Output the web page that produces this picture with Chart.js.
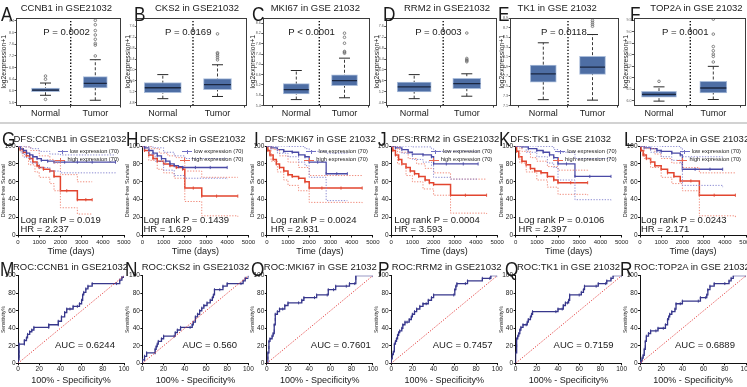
<!DOCTYPE html>
<html><head><meta charset="utf-8">
<script src="https://cdn.jsdelivr.net/npm/chart.js@4.4.1/dist/chart.umd.min.js"></script>
<style>
html,body{margin:0;padding:0;background:#fff;overflow:hidden}
#fig{position:relative;width:747px;height:387px;overflow:hidden;font-family:"Liberation Sans",Arial,sans-serif;color:#1a1a1a}
canvas{position:absolute}
.t{position:absolute;white-space:nowrap;line-height:1}
.let{transform:scaleX(0.82);transform-origin:0 0}
.lg{position:absolute;font-size:5.7px;line-height:1;text-align:right;white-space:nowrap}
.lg div{display:flex;justify-content:flex-end;align-items:center;height:8.5px}
.lg i{display:inline-block;width:10px;height:1px;margin-right:2px;position:relative}
.lg i b{position:absolute;left:4.5px;top:-1.5px;width:1px;height:4px}
</style></head><body><div id="fig"></div>
<script>
// ---------------- DATA ----------------
const letters = ['A','B','C','D','E','F','G','H','I','J','K','L','M','N','O','P','Q','R'];
const boxTitles = ['CCNB1 in GSE21032','CKS2 in GSE21032','MKI67 in GSE 21032','RRM2 in GSE21032','TK1 in GSE 21032','TOP2A in GSE 21032'];
const kmTitles = ['DFS:CCNB1 in GSE21032','DFS:CKS2 in GSE21032','DFS:MKI67 in GSE 21032','DFS:RRM2 in GSE21032','DFS:TK1 in GSE 21032','DFS:TOP2A in GSE 21032'];
const rocTitles = ['ROC:CCNB1 in GSE21032','ROC:CKS2 in GSE21032','ROC:MKI67 in GSE 21032','ROC:RRM2 in GSE21032','ROC:TK1 in GSE 21032','ROC:TOP2A in GSE 21032'];
const groups = ['Normal','Tumor'];
const pValues = ['P = 0.0002','P = 0.0169','P < 0.0001','P = 0.0003','P = 0.0118','P = 0.0001'];
const logRankP = ['0.019','0.1439','0.0024','0.0004','0.0106','0.0243'];
const hazardRatios = ['2.237','1.629','2.931','3.593','2.397','2.171'];
const aucValues = ['0.6244','0.560','0.7601','0.7457','0.7159','0.6889'];
const kmLegend = ['low expression (70)','high expression (70)'];

// box stats: [lower whisker, Q1, median, Q3, upper whisker]
const boxNormal = [
  [5.85,5.97,6.03,6.10,6.27],
  [4.95,5.17,5.35,5.54,5.83],
  [5.63,5.85,6.02,6.25,6.76],
  [4.95,5.20,5.38,5.56,5.83],
  [7.22,7.58,7.75,7.93,8.39],
  [5.99,6.16,6.28,6.42,6.61]
];
const boxTumor = [
  [5.68,6.10,6.26,6.49,7.07],
  [5.03,5.28,5.46,5.68,6.19],
  [5.70,6.17,6.37,6.59,7.24],
  [5.04,5.32,5.50,5.69,5.86],
  [7.21,7.74,7.89,8.11,8.56],
  [6.06,6.35,6.56,6.85,7.50]
];
const outNormal = [[6.51,6.40,5.71],[],[],[],[],[6.85]];
const outTumor = [
  [7.20,7.57,7.63,7.77,7.92,8.07,8.27,8.42],
  [6.37,6.45,6.52,6.59,6.63,7.32],
  [7.43,7.47,7.50,7.82,8.05,8.21],
  [6.30,6.34,6.37,6.42,7.35],
  [8.73,8.77,8.81,8.85],
  [7.69,7.93,8.03,8.18,8.36,8.90,9.55]
];
// y range of the box plots: [min, max, tick step]
const boxYRange = [[5.5,8.5,0.2],[4.7,7.9,0.2],[5.4,8.8,0.2],[4.7,7.9,0.2],[7.1,8.9,0.1],[5.8,9.6,0.5]];

// Kaplan-Meier curves [days, % disease-free]
const kmLow = [
  [[0,100],[120,97],[250,95],[400,92],[550,90],[700,88],[900,86],[1100,84],[1400,83],[1700,82],[2200,82],[2800,82],[3500,82],[4600,82]],
  [[0,100],[100,98],[300,95],[500,92],[700,89],[900,86],[1100,83],[1300,80],[1500,78],[1700,77],[1900,76],[2500,76],[3200,76],[4000,76]],
  [[0,100],[200,98],[500,96],[800,94],[1200,93],[1500,90],[1800,88],[2000,82],[2400,82],[2800,69],[3300,69],[3800,69]],
  [[0,100],[200,98],[500,96],[800,93],[1000,91],[1500,90],[1900,88],[2000,80],[2600,80],[3400,80],[4100,80]],
  [[0,100],[300,99],[600,97],[1000,95],[1300,93],[1600,90],[1800,87],[2000,80],[2400,80],[2800,66],[3500,66],[4500,66]],
  [[0,100],[200,98],[500,97],[800,95],[1000,94],[1500,92],[1900,90],[2000,74],[2600,74],[3300,74],[3900,74]]
];
const kmLowUpper = [
  [[0,100],[300,99],[600,97],[1000,94],[1500,91],[2000,90],[4600,90]],
  [[0,100],[500,98],[1000,93],[1500,89],[2000,86],[4000,86]],
  [[0,100],[1000,99.5],[1800,97],[2000,94],[2800,92],[3800,92]],
  [[0,100],[1000,99],[1900,97],[2000,94],[4100,93]],
  [[0,100],[1000,99.5],[1800,96],[2000,93],[2800,86],[4500,86]],
  [[0,100],[1000,99.5],[1900,98],[2000,88],[3900,88]]
];
const kmLowLower = [
  [[0,100],[150,92],[300,87],[600,81],[1000,76],[1500,72],[2000,70],[4600,69]],
  [[0,100],[300,91],[600,83],[1000,73],[1500,67],[2000,64],[4000,63]],
  [[0,100],[500,92],[1000,88],[1500,82],[1800,78],[2000,65],[2800,39],[3800,39]],
  [[0,100],[500,92],[1000,85],[1500,82],[1900,78],[2000,65],[2800,63],[4100,63]],
  [[0,100],[500,93],[1000,88],[1500,81],[1800,76],[2000,62],[2800,40],[4500,39]],
  [[0,100],[500,93],[1000,88],[1500,84],[1900,80],[2000,56],[3900,54]]
];
const kmHigh = [
  [[0,100],[100,96],[250,93],[400,89],[550,86],[700,82],[900,78],[1000,76],[1200,74],[1500,72],[1700,66],[2000,50],[2300,50],[2800,40],[3200,40],[3500,40]],
  [[0,100],[100,95],[300,90],[500,86],[700,83],[1000,80],[1300,78],[1600,76],[1900,74],[2000,53],[2400,53],[2800,44],[3500,44],[4500,44]],
  [[0,100],[50,95],[150,90],[300,85],[450,80],[600,76],[800,72],[1000,68],[1200,66],[1500,64],[1800,60],[2000,53],[2600,53],[3500,53],[4500,53]],
  [[0,100],[80,95],[200,90],[350,85],[500,80],[700,76],[900,72],[1100,69],[1300,66],[1600,62],[1800,59],[2000,57],[2800,45],[3500,45],[4500,45]],
  [[0,100],[50,94],[150,88],[300,83],[500,79],[700,75],[900,72],[1200,70],[1500,66],[1800,62],[2000,59],[2600,59],[3400,59]],
  [[0,100],[50,95],[150,90],[300,86],[500,82],[700,78],[1000,74],[1300,70],[1600,66],[1900,61],[2400,61],[2800,45],[3500,45],[4500,45]]
];
const kmHighUpper = [
  [[0,100],[300,99],[600,95],[1000,89],[1500,85],[1700,81],[2000,68],[2800,60],[3500,60]],
  [[0,100],[400,97],[800,92],[1200,89],[1600,87],[2000,72],[2800,65],[4500,65]],
  [[0,100],[300,96],[600,89],[1000,82],[1500,76],[2000,67],[4500,66]],
  [[0,100],[400,93],[800,86],[1200,80],[1600,75],[2000,70],[2800,63],[4500,63]],
  [[0,100],[300,94],[700,87],[1000,83],[1500,77],[2000,73],[3400,72]],
  [[0,100],[300,97],[700,91],[1000,86],[1500,81],[2000,76],[2800,70],[4500,70]]
];
const kmHighLower = [
  [[0,100],[200,89],[500,79],[800,71],[1000,65],[1500,58],[1700,50],[2000,31],[2800,24],[3500,24]],
  [[0,100],[300,84],[700,74],[1000,70],[1500,64],[2000,38],[2800,22],[4500,21]],
  [[0,100],[200,83],[500,71],[800,62],[1000,56],[1500,50],[2000,37],[4500,36]],
  [[0,100],[300,80],[700,67],[1000,60],[1500,52],[2000,45],[2800,25],[4500,24]],
  [[0,100],[200,81],[500,71],[1000,62],[1500,54],[2000,46],[3400,45]],
  [[0,100],[200,86],[500,76],[1000,65],[1500,58],[2000,50],[2800,22],[4500,20]]
];
const kmDayTicks = [0,1000,2000,3000,4000,5000];
const pctTicks = [0,20,40,60,80,100];

// ROC curves [100% - specificity, sensitivity]
const rocCurves = [
  [[0,0],[0,4],[1,8],[1,13],[1,22],[6,22],[6,26],[8,29],[9,33],[11,36],[13,38],[15,41],[29,41],[29,44],[38,44],[38,48],[41,53],[44,58],[46,62],[49,62],[52,65],[56,65],[58,68],[60,72],[61,78],[62,81],[64,85],[66,88],[70,91],[93,91],[96,95],[98,98],[100,100]],
  [[0,0],[0,4],[2,4],[2,8],[4,12],[12,12],[12,16],[13,19],[14,22],[15,25],[18,28],[20,31],[30,31],[31,35],[33,38],[36,41],[45,41],[47,44],[48,47],[50,53],[52,56],[54,60],[56,63],[58,66],[61,69],[64,72],[66,75],[67,78],[68,84],[73,84],[76,88],[80,91],[93,91],[95,94],[97,97],[100,100]],
  [[0,0],[1,6],[1,12],[2,18],[2,25],[3,28],[5,31],[6,34],[7,37],[7,44],[8,50],[8,56],[10,59],[12,62],[15,62],[17,66],[20,69],[30,69],[33,72],[35,75],[45,75],[47,78],[57,78],[58,84],[63,84],[65,88],[75,88],[78,91],[83,91],[84,97],[84,100],[100,100]],
  [[0,0],[0,5],[1,10],[2,13],[3,17],[3,22],[4,25],[5,28],[6,32],[7,35],[8,37],[10,40],[11,44],[13,47],[15,47],[17,50],[19,53],[20,56],[22,59],[24,62],[27,65],[30,68],[33,68],[35,72],[38,75],[40,78],[59,78],[60,84],[61,88],[62,91],[70,91],[72,94],[86,97],[93,97],[94,100],[100,100]],
  [[0,0],[0,12],[1,20],[1,28],[2,31],[3,34],[4,38],[5,41],[7,44],[10,44],[11,47],[12,50],[14,53],[15,56],[16,59],[38,59],[40,62],[44,62],[45,66],[47,69],[49,69],[50,72],[51,78],[60,78],[62,81],[64,84],[65,88],[76,88],[78,91],[85,91],[86,94],[90,97],[92,100],[100,100]],
  [[0,0],[1,3],[2,6],[3,9],[4,12],[4,16],[5,19],[5,25],[6,28],[6,31],[8,34],[10,37],[15,37],[17,40],[22,40],[24,44],[26,50],[27,53],[28,56],[30,59],[33,62],[34,68],[38,68],[40,71],[55,71],[57,75],[62,75],[63,78],[64,84],[66,88],[70,91],[80,91],[84,94],[86,97],[88,100],[100,100]]
];
const rocDiagonal = [[0,0],[100,100]];

// ---------------- LAYOUT (positions / styles only) ----------------
const colX = [0,124.4,248.8,373.2,497.6,622];
const boxLayout = [
  {l:16,r:121,n:45.5,t:95.3,d:70.7,wn:28,wt:24},
  {l:12,r:122.6,n:38.4,t:93.1,d:68.6,wn:37,wt:28},
  {l:14,r:121.2,n:47.5,t:95.7,d:70.5,wn:26,wt:26},
  {l:12.5,r:123.8,n:41,t:93.6,d:70,wn:34,wt:28},
  {l:12.5,r:121.4,n:45.7,t:94.9,d:70.4,wn:26,wt:26},
  {l:11.5,r:123,n:37,t:91.3,d:68.3,wn:35,wt:27}
];
const letterX = [[1,10,3,10,0,8],[1.5,1.6,5,5,1,1.7],[0,0.6,2,5,7.7,-1.7]];
const titleX = [[20.7,30.6,21.9,30.8,20,28.3],[13.5,15.6,16,18.5,12.7,13.3],[12.9,17.3,15,18.5,19.4,11.9]];
const pTextX = [43.3,40.6,39.5,42,43.4,40];
const lrTextX = [20.5,19,22,21,21,19];
const aucTextX = [55,58,62,59.5,56,53];

const FONT = '"Liberation Sans", Arial, sans-serif';
Chart.defaults.font.family = FONT;
Chart.defaults.color = '#1a1a1a';
const fig = document.getElementById('fig');

function addText(txt, left, top, size, cls) {
  const d = document.createElement('div');
  d.className = 't' + (cls ? ' ' + cls : ''); d.textContent = txt;
  d.style.left = left + 'px'; d.style.top = top + 'px'; d.style.fontSize = size + 'px';
  fig.appendChild(d); return d;
}
function addCanvas(l, t, w, h) {
  const c = document.createElement('canvas');
  c.width = w; c.height = h;
  c.style.left = l + 'px'; c.style.top = t + 'px'; c.style.width = w + 'px'; c.style.height = h + 'px';
  fig.appendChild(c); return c;
}
function fixed(cl, ct, cw, ch, area) {
  return {
    padding: {left: 0, top: area.t - ct, right: cl + cw - area.r, bottom: 0},
    yFit: s => { s.width = area.l - cl; s.paddingTop = 0; s.paddingBottom = 0; },
    xFit: s => { s.height = ct + ch - area.b; s.paddingLeft = 0; s.paddingRight = 0; }
  };
}
const framePlugin = {
  id: 'frame',
  afterDatasetsDraw(chart, args, opts) {
    if (!opts || !opts.on) return;
    const a = chart.chartArea, ctx = chart.ctx;
    ctx.save(); ctx.strokeStyle = opts.color; ctx.lineWidth = 1;
    ctx.strokeRect(Math.round(a.left) + 0.5, Math.round(a.top) + 0.5, Math.round(a.right - a.left) - 1, Math.round(a.bottom - a.top) - 1);
    ctx.restore();
  }
};
const pts = arr => arr.map(p => ({x: p[0], y: p[1]}));
const plain = v => String(v);

const sep = document.createElement('div');
Object.assign(sep.style, {position:'absolute', left:'0px', top:'122px', width:'747px', height:'2px', background:'#d2d2d2'});
fig.appendChild(sep);

// ---------------- BOX PLOTS ----------------
for (let i = 0; i < 6; i++) {
  const x0 = colX[i], L = boxLayout[i];
  const cl = Math.round(x0 - 3), ct = 8, cw = 132, ch = 116;
  const area = {l: x0 + L.l, r: x0 + L.r, t: 18, b: 105.5};
  const F = fixed(cl, ct, cw, ch, area);
  const span = L.t - L.n;
  const xmin = (L.l - L.n) / span, xmax = (L.r - L.n) / span, xdiv = (L.d - L.n) / span;
  const [yMin, yMax, yStep] = boxYRange[i];
  const N = boxNormal[i], T = boxTumor[i];
  const outliers = outNormal[i].map(v => ({x: 0, y: v})).concat(outTumor[i].map(v => ({x: 1, y: v})));
  new Chart(addCanvas(cl, ct, cw, ch), {
    type: 'bar',
    data: { datasets: [
      {type:'bar', data:[{x:0, y:[N[1], N[3]]}], grouped:false, barThickness:L.wn, backgroundColor:'#4e6ea4', borderColor:'#a9bcda', borderWidth:1, borderSkipped:false, order:2},
      {type:'bar', data:[{x:1, y:[T[1], T[3]]}], grouped:false, barThickness:L.wt, backgroundColor:'#4e6ea4', borderColor:'#a9bcda', borderWidth:1, borderSkipped:false, order:2},
      {type:'line', data:[{x:0,y:N[0]},{x:0,y:N[4]}], borderColor:'#3a3a3a', borderWidth:1, borderDash:[3,2], pointRadius:0, order:5},
      {type:'line', data:[{x:1,y:T[0]},{x:1,y:T[4]}], borderColor:'#3a3a3a', borderWidth:1, borderDash:[3,2], pointRadius:0, order:5},
      {type:'line', data:[{x:0,y:N[0]},{x:0,y:N[4]},{x:1,y:T[0]},{x:1,y:T[4]}], showLine:false, pointStyle:'line', pointRadius:5.5, pointBorderColor:'#2a2a2a', pointBorderWidth:1, order:1},
      {type:'line', data:[{x:0,y:N[2]},{x:1,y:T[2]}], showLine:false, pointStyle:'line', pointRadius:[L.wn/2 - 0.5, L.wt/2 - 0.5], pointBorderColor:'#1b2740', pointBorderWidth:1.3, order:0},
      {type:'line', data:outliers, showLine:false, pointStyle:'circle', pointRadius:1.3, pointBorderColor:'#6a6a6a', pointBackgroundColor:'rgba(0,0,0,0)', pointBorderWidth:0.8, order:0},
      {type:'line', data:[{x:xdiv,y:yMin},{x:xdiv,y:yMax}], borderColor:'#111', borderWidth:1.4, borderDash:[1.4,1.8], pointRadius:0, order:6}
    ]},
    options: {
      responsive:false, animation:false, events:[],
      layout:{padding:F.padding, autoPadding:false},
      plugins:{legend:{display:false}, tooltip:{enabled:false}, frame:{on:true, color:'#3c3c3c'}},
      scales: {
        x: {type:'linear', min:xmin, max:xmax, offset:false,
            afterBuildTicks: s => { s.ticks = [{value:0},{value:1}]; },
            afterFit: F.xFit,
            ticks:{callback:(v) => groups[Math.round(v)], font:{size:9}, color:'#1a1a1a', padding:1, maxRotation:0, autoSkip:false},
            grid:{drawOnChartArea:false, drawTicks:true, tickLength:2, color:'#333'}, border:{display:false}},
        y: {type:'linear', min:yMin, max:yMax,
            afterBuildTicks: s => { const t = []; for (let v = Math.ceil(yMin / yStep - 1e-6) * yStep; v <= yMax + 1e-6; v += yStep) t.push({value: +v.toFixed(2)}); s.ticks = t; },
            afterFit: F.yFit,
            ticks:{font:{size:3.6}, color:'#555', padding:0.5, callback:v => v.toFixed(1)},
            grid:{drawOnChartArea:false, drawTicks:true, tickLength:1.5, color:'#555'}, border:{display:false},
            title:{display:true, text:'log2expression+1', font:{size:6.8}, padding:{top:3.5, bottom:0}, color:'#222'}}
      }
    },
    plugins:[framePlugin]
  });
  addText(letters[i], x0 + letterX[0][i], 2.6, 21, 'let');
  addText(boxTitles[i], x0 + titleX[0][i], 2.9, 9.5);
  addText(pValues[i], x0 + pTextX[i], 26.5, 9.6);
}

// ---------------- KAPLAN-MEIER ----------------
const blue = '#4a4aa6', blueCI = '#8c8cd2', red = '#e2452f', redCI = '#f08b7b';
for (let i = 0; i < 6; i++) {
  const x0 = colX[i];
  const cl = Math.round(x0 - 3), ct = 126, cw = 140, ch = 132;
  const area = {l: x0 + 18, r: x0 + 124, t: 146, b: 235.5};
  const F = fixed(cl, ct, cw, ch, area);
  const ci = (d, c) => ({data: pts(d), showLine:true, stepped:'before', borderColor:c, borderWidth:1, borderDash:[1.3,1.5], pointRadius:0});
  const main = (d, c, w) => ({data: pts(d), showLine:true, stepped:'before', borderColor:c, borderWidth:w, pointStyle:'line', rotation:90, pointRadius:1.6, pointBorderColor:c, pointBorderWidth:0.9});
  new Chart(addCanvas(cl, ct, cw, ch), {
    type: 'scatter',
    data: { datasets: [
      ci(kmLowUpper[i], blueCI), ci(kmLowLower[i], blueCI),
      ci(kmHighUpper[i], redCI), ci(kmHighLower[i], redCI),
      main(kmLow[i], blue, 1.3), main(kmHigh[i], red, 1.5)
    ]},
    options: {
      responsive:false, animation:false, events:[],
      layout:{padding:F.padding, autoPadding:false},
      plugins:{legend:{display:false}, tooltip:{enabled:false}},
      scales: {
        x: {type:'linear', min:0, max:5000, afterBuildTicks: s => { s.ticks = kmDayTicks.map(v => ({value:v})); }, afterFit:F.xFit,
            ticks:{font:{size:6}, color:'#222', padding:1, maxRotation:0, autoSkip:false, callback:plain},
            grid:{drawOnChartArea:false, drawTicks:true, tickLength:2, color:'#111'}, border:{display:true, color:'#111', width:1},
            title:{display:true, text:'Time (days)', font:{size:9}, padding:{top:0, bottom:1}, color:'#1a1a1a'}},
        y: {type:'linear', min:0, max:100, afterBuildTicks: s => { s.ticks = pctTicks.map(v => ({value:v})); }, afterFit:F.yFit,
            ticks:{font:{size:6.5}, color:'#222', padding:0.5, callback:plain},
            grid:{drawOnChartArea:false, drawTicks:true, tickLength:2, color:'#111'}, border:{display:true, color:'#111', width:1},
            title:{display:true, text:'Disease-free Survival', font:{size:5.6}, padding:{top:3, bottom:0}, color:'#222'}}
      }
    }
  });
  addText(letters[6 + i], x0 + letterX[1][i], 128.2, 21, 'let');
  addText(kmTitles[i], x0 + titleX[1][i], 133.6, 9.5);
  addText('Log rank P = ' + logRankP[i], x0 + lrTextX[i], 214.5, 9.5);
  addText('HR = ' + hazardRatios[i], x0 + lrTextX[i], 224.4, 9.5);
  const lg = document.createElement('div');
  lg.className = 'lg';
  lg.style.right = (747 - (x0 + 119)) + 'px'; lg.style.top = '147.5px';
  lg.innerHTML = '<div><i style="background:#7070c4"><b style="background:#7070c4"></b></i>' + kmLegend[0] + '</div>' +
                 '<div><i style="background:#ea6650"><b style="background:#ea6650"></b></i>' + kmLegend[1] + '</div>';
  fig.appendChild(lg);
}

// ---------------- ROC ----------------
for (let i = 0; i < 6; i++) {
  const x0 = colX[i];
  const cl = Math.round(x0 - 3), ct = 262, cw = 140, ch = 125;
  const area = {l: x0 + 18, r: x0 + 124, t: 275.7, b: 363.3};
  const F = fixed(cl, ct, cw, ch, area);
  new Chart(addCanvas(cl, ct, cw, ch), {
    type: 'scatter',
    data: { datasets: [
      {data: pts(rocDiagonal), showLine:true, borderColor:'#e54b4b', borderWidth:1, borderDash:[1.3,1.5], pointRadius:0},
      {data: pts(rocCurves[i]), showLine:true, stepped:'before', borderColor:'#37378c', borderWidth:1.3, pointStyle:'line', rotation:90, pointRadius:1.5, pointBorderColor:'#37378c', pointBorderWidth:0.9}
    ]},
    options: {
      responsive:false, animation:false, events:[],
      layout:{padding:F.padding, autoPadding:false},
      plugins:{legend:{display:false}, tooltip:{enabled:false}},
      scales: {
        x: {type:'linear', min:0, max:100, afterBuildTicks: s => { s.ticks = pctTicks.map(v => ({value:v})); }, afterFit:F.xFit,
            ticks:{font:{size:6.5}, color:'#222', padding:0, maxRotation:0, autoSkip:false, callback:plain},
            grid:{drawOnChartArea:false, drawTicks:true, tickLength:2, color:'#111'}, border:{display:true, color:'#111', width:1},
            title:{display:true, text:'100% - Specificity%', font:{size:9}, padding:{top:0, bottom:0.6}, color:'#1a1a1a'}},
        y: {type:'linear', min:0, max:100, afterBuildTicks: s => { s.ticks = pctTicks.map(v => ({value:v})); }, afterFit:F.yFit,
            ticks:{font:{size:6.5}, color:'#222', padding:0.5, callback:plain},
            grid:{drawOnChartArea:false, drawTicks:true, tickLength:2, color:'#111'}, border:{display:true, color:'#111', width:1},
            title:{display:true, text:'Sensitivity%', font:{size:5}, padding:{top:4, bottom:0}, color:'#222'}}
      }
    }
  });
  addText(letters[12 + i], x0 + letterX[2][i], 258, 21, 'let');
  addText(rocTitles[i], x0 + titleX[2][i], 262, 9.5);
  addText('AUC = ' + aucValues[i], x0 + aucTextX[i], 339.7, 9.5);
}
</script></body></html>
